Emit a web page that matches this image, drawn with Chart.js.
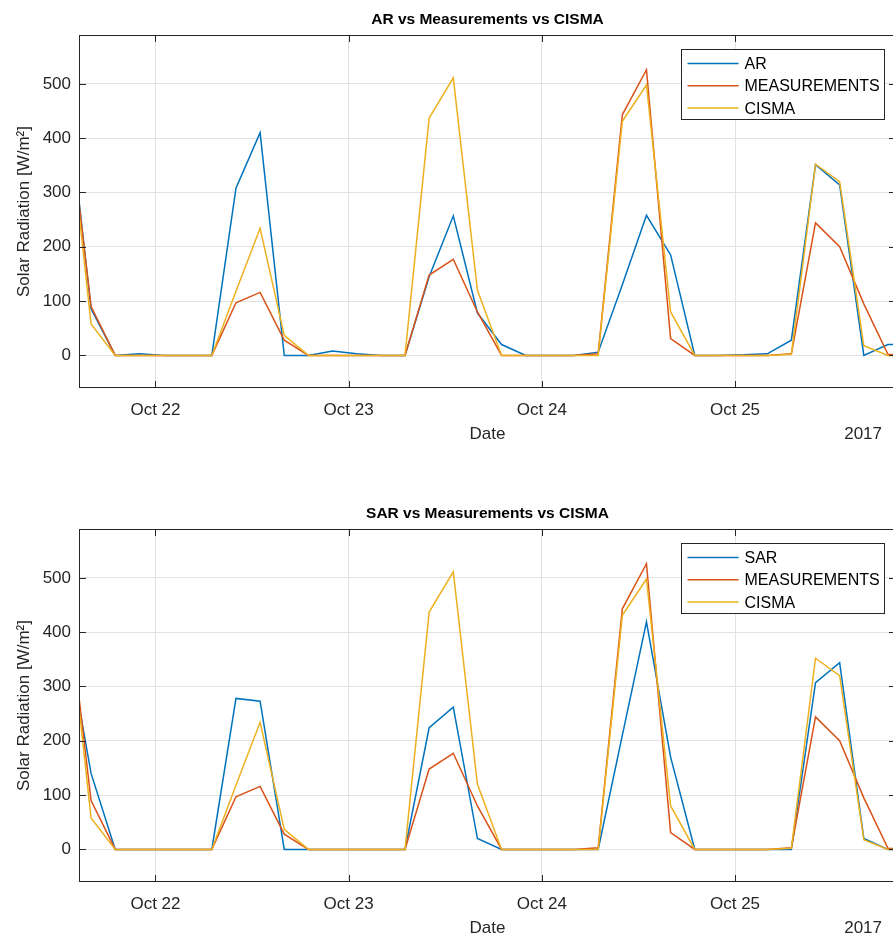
<!DOCTYPE html>
<html>
<head>
<meta charset="utf-8">
<script src="https://cdn.jsdelivr.net/npm/chart.js@4.4.0/dist/chart.umd.min.js"></script>
<style>
    body { margin: 0; background: #fff; overflow: hidden; width: 893px; height: 939px; position: relative; }
    .panel { position: absolute; left: 0; width: 896px; height: 450px; }
</style>
</head>
<body>
<div class="panel" style="top:0"><canvas id="chartTop"></canvas></div>
<div class="panel" style="top:494px"><canvas id="chartBottom"></canvas></div>
<script>
// hours counted from Oct 22 00:00, one sample every 3 hours
var hours = [-9.5, -8, -5, -2, 1, 4, 7, 10, 13, 16, 19, 22, 25, 28, 31, 34, 37, 40, 43, 46, 49, 52, 55, 58, 61, 64, 67, 70, 73, 76, 79, 82, 85, 88, 91, 94];

var ar    = [285, 86, 0, 3, 0, 0, 0, 308, 410, 0, 0, 8, 3, 0, 0, 145, 257, 78, 20, 0, 0, 0, 6, 130, 258, 185, 0, 0, 1, 3, 28, 351, 314, 0, 20, 20];
var sar   = [265, 140, 0, 0, 0, 0, 0, 278, 273, 0, 0, 0, 0, 0, 0, 224, 262, 20, 0, 0, 0, 0, 0, 210, 419, 170, 0, 0, 0, 0, 0, 307, 344, 20, 0, 0];
var measurements = [280, 90, 0, 0, 0, 0, 0, 97, 116, 28, 0, 0, 0, 0, 0, 148, 177, 80, 0, 0, 0, 0, 3, 443, 526, 31, 0, 0, 0, 0, 3, 244, 200, 95, 2, 0];
var cisma = [262, 58, 0, 0, 0, 0, 0, 118, 234, 37, 0, 0, 0, 0, 0, 437, 511, 120, 0, 0, 0, 0, 0, 431, 498, 80, 0, 0, 0, 0, 2, 352, 320, 18, 0, 0];

var dayTicks  = [0, 24, 48, 72];
var dayLabels = ['Oct 22', 'Oct 23', 'Oct 24', 'Oct 25'];
var yTicks    = [0, 100, 200, 300, 400, 500];

var FONT = "'Liberation Sans', Arial, Helvetica, sans-serif";
var TXT = '#262626';
var colors = ['#0072BD', '#D95319', '#EDB120'];

function points(values) {
    return values.map(function(v, i) { return {x: hours[i], y: v}; });
}

// title over the axes, box, inward ticks, legend and the year label
var framePlugin = {
    id: 'frame',
    afterDatasetsDraw: function(chart) {
        var ctx = chart.ctx, a = chart.chartArea;
        var x = chart.scales.x, y = chart.scales.y;
        var opts = chart.options.plugins.frame;
        ctx.save();

        ctx.fillStyle = '#000';
        ctx.font = 'bold 15.5px ' + FONT;
        ctx.textAlign = 'center';
        ctx.textBaseline = 'middle';
        ctx.fillText(opts.title, (a.left + a.right) / 2, a.top - 15);

        ctx.strokeStyle = TXT;
        ctx.lineWidth = 1;
        ctx.strokeRect(Math.round(a.left) + 0.5, Math.round(a.top) + 0.5, Math.round(a.width) - 1, Math.round(a.height) - 1);
        ctx.beginPath();
        dayTicks.forEach(function(d) {
            var px = Math.round(x.getPixelForValue(d)) + 0.5;
            ctx.moveTo(px, a.top); ctx.lineTo(px, a.top + 7);
            ctx.moveTo(px, a.bottom); ctx.lineTo(px, a.bottom - 7);
        });
        yTicks.forEach(function(v) {
            var py = Math.round(y.getPixelForValue(v)) + 0.5;
            ctx.moveTo(a.left, py); ctx.lineTo(a.left + 7, py);
            ctx.moveTo(a.right, py); ctx.lineTo(a.right - 7, py);
        });
        ctx.stroke();

        // legend
        var bx = Math.round(a.right - 215) + 0.5, by = Math.round(a.top + 14) + 0.5;
        ctx.fillStyle = '#fff';
        ctx.fillRect(bx, by, 203, 70);
        ctx.strokeStyle = TXT;
        ctx.strokeRect(bx, by, 203, 70);
        ctx.font = '16px ' + FONT;
        ctx.textAlign = 'left';
        ctx.textBaseline = 'middle';
        opts.names.forEach(function(n, i) {
            var ry = by + 14 + i * 22.3;
            ctx.strokeStyle = colors[i];
            ctx.lineWidth = 1.5;
            ctx.beginPath();
            ctx.moveTo(bx + 6, ry); ctx.lineTo(bx + 57, ry);
            ctx.stroke();
            ctx.fillStyle = '#000';
            ctx.fillText(n, bx + 63, ry + 1);
        });

        ctx.font = '17px ' + FONT;
        ctx.fillStyle = TXT;
        ctx.textAlign = 'right';
        ctx.fillText('2017', 882, a.bottom + 46);
        ctx.restore();
    }
};

function makeChart(id, title, firstName, firstValues) {
    var ctx = document.getElementById(id).getContext('2d');
    return new Chart(ctx, {
        type: 'line',
        data: {
            datasets: [
                {label: firstName, data: points(firstValues), borderColor: colors[0], order: 2},
                {label: 'MEASUREMENTS', data: points(measurements), borderColor: colors[1], order: 1},
                {label: 'CISMA', data: points(cisma), borderColor: colors[2], order: 0}
            ]
        },
        options: {
            animation: false,
            responsive: true,
            maintainAspectRatio: false,
            layout: {padding: {left: 0, right: 0, top: 35, bottom: 0}},
            elements: {
                point: {radius: 0},
                line: {tension: 0, borderWidth: 1.5, fill: false}
            },
            plugins: {
                legend: {display: false},
                tooltip: {enabled: false},
                title: {display: false},
                frame: {title: title, names: [firstName, 'MEASUREMENTS', 'CISMA']}
            },
            scales: {
                x: {
                    type: 'linear',
                    min: -9.5,
                    max: 92,
                    afterBuildTicks: function(s) { s.ticks = dayTicks.map(function(v) { return {value: v}; }); },
                    afterFit: function(s) { s.height = 62; },
                    ticks: {
                        color: TXT,
                        font: {family: FONT, size: 17},
                        padding: 12,
                        maxRotation: 0,
                        callback: function(v, i) { return dayLabels[i]; }
                    },
                    grid: {color: '#e2e2e2', drawTicks: false},
                    border: {display: false},
                    title: {
                        display: true,
                        text: 'Date',
                        color: TXT,
                        font: {family: FONT, size: 17},
                        padding: {top: 0, bottom: 5}
                    }
                },
                y: {
                    min: -60,
                    max: 590,
                    afterBuildTicks: function(s) { s.ticks = yTicks.map(function(v) { return {value: v}; }); },
                    afterFit: function(s) { s.width = 79; },
                    ticks: {
                        color: TXT,
                        font: {family: FONT, size: 17},
                        padding: 8
                    },
                    grid: {color: '#e2e2e2', drawTicks: false},
                    border: {display: false},
                    title: {
                        display: true,
                        text: 'Solar Radiation [W/m\u00B2]',
                        color: TXT,
                        font: {family: FONT, size: 17},
                        padding: {top: 14, bottom: 0}
                    }
                }
            }
        },
        plugins: [framePlugin]
    });
}

document.addEventListener('DOMContentLoaded', function() {
    makeChart('chartTop', 'AR vs Measurements vs CISMA', 'AR', ar);
    makeChart('chartBottom', 'SAR vs Measurements vs CISMA', 'SAR', sar);
});
</script>
</body>
</html>
